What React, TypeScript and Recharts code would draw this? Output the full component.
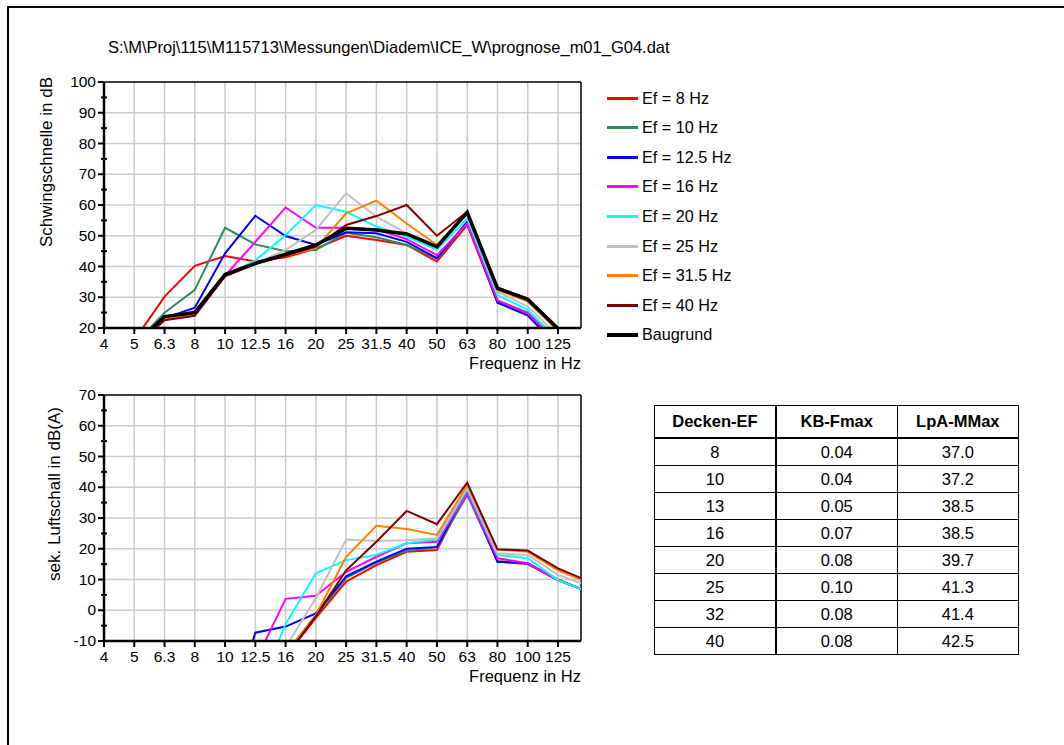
import React from 'react';
import { LineChart, Line, XAxis, YAxis, CartesianGrid, ReferenceLine } from 'recharts';

const FREQ_LABELS = ['4', '5', '6.3', '8', '10', '12.5', '16', '20', '25', '31.5', '40', '50', '63', '80', '100', '125', '160'];

// Upper chart: Schwingschnelle in dB
const topEf8 = [2, 16, 30.2, 40.2, 43.4, 41.6, 43, 45.8, 50, 48.6, 47, 41.6, 53.5, 28.4, 24, 14, 8];
const topEf10 = [3, 14.6, 25, 32.4, 52.6, 47.2, 45, 45.4, 51, 49.5, 47, 42.5, 54, 29, 25, 15, 8];
const topEf12 = [3, 13, 23.2, 26.6, 44.3, 56.5, 49.9, 47, 51.1, 50.8, 48, 42.7, 54.6, 28.2, 24.2, 14, 8];
const topEf16 = [3, 13, 23, 25.5, 37, 48, 59.2, 52.6, 52.6, 52, 48.9, 43.7, 54, 29, 24.8, 15, 8];
const topEf20 = [3, 13, 23, 25, 37, 42, 50.2, 60, 57.8, 53, 49.7, 45.4, 55.6, 30.7, 25.9, 16, 9];
const topEf25 = [3, 13.5, 23.2, 25, 37.2, 41, 45.4, 51.9, 63.8, 56.2, 50.8, 47, 56.7, 31.8, 27, 17.5, 10];
const topEf31 = [3, 13.5, 23, 24.5, 37, 41, 43.5, 46, 57.3, 61.4, 54, 47, 57.3, 32.4, 28.6, 19, 11];
const topEf40 = [3, 13.5, 22.5, 24, 36.8, 40.8, 43.5, 46.5, 53.5, 56.4, 60, 50, 57.8, 33.2, 29.6, 20, 12];
const topBaugrund = [5, 14.5, 23.7, 25, 37.4, 41, 44, 47, 52.4, 51.9, 50.6, 46.4, 57.6, 32.9, 29.3, 19.8, 12];

// Lower chart: sek. Luftschall in dB(A)
const botEf8 = [-40, -40, -40, -40, -40, -40, -15, -2.5, 9.3, 14.7, 19, 19.6, 38.6, 15.8, 15, 9.8, 6];
const botEf10 = [-40, -40, -40, -40, -40, -40, -15, -2, 10.5, 15.5, 19.3, 20.5, 37.5, 16, 15.2, 10, 6];
const botEf12 = [-40, -40, -40, -40, -40, -7.3, -5.3, -1, 11, 15.8, 20, 20.6, 38.9, 15.8, 15.3, 9.8, 6];
const botEf16 = [-40, -40, -40, -40, -40, -16.7, 3.7, 4.7, 12.5, 17.4, 21.8, 22.3, 38, 16.9, 15.3, 9.8, 6];
const botEf20 = [-40, -40, -40, -40, -40, -28, -4.5, 12, 16.3, 18, 21.8, 23, 39.3, 18, 16.9, 9.8, 6];
const botEf25 = [-40, -40, -40, -40, -40, -30, -12, 4, 23, 22.5, 22.8, 23.4, 40.2, 18.5, 18, 11.5, 8];
const botEf31 = [-40, -40, -40, -40, -40, -30, -14, -1.5, 17.4, 27.5, 26.4, 24.5, 40.7, 19.8, 19, 13, 9];
const botEf40 = [-40, -40, -40, -40, -40, -30, -15, -2, 13, 22.3, 32.3, 28, 41.5, 19.8, 19.4, 13.6, 9.5];

// Table
const tableHeader = ['Decken-EF', 'KB-Fmax', 'LpA-MMax'];
const tableEF = ['8', '10', '13', '16', '20', '25', '32', '40'];
const tableKB = ['0.04', '0.04', '0.05', '0.07', '0.08', '0.10', '0.08', '0.08'];
const tableLpA = ['37.0', '37.2', '38.5', '38.5', '39.7', '41.3', '41.4', '42.5'];

const TITLE = 'S:\\M\\Proj\\115\\M115713\\Messungen\\Diadem\\ICE_W\\prognose_m01_G04.dat';

const FONT = '"Liberation Sans", Arial, sans-serif';

const SERIES = [
  { key: 'ef8', name: 'Ef = 8 Hz', color: '#ff0000', width: 2 },
  { key: 'ef10', name: 'Ef = 10 Hz', color: '#2e8b57', width: 2 },
  { key: 'ef12', name: 'Ef = 12.5 Hz', color: '#0000ff', width: 2 },
  { key: 'ef16', name: 'Ef = 16 Hz', color: '#ff00ff', width: 2 },
  { key: 'ef20', name: 'Ef = 20 Hz', color: '#00ffff', width: 2 },
  { key: 'ef25', name: 'Ef = 25 Hz', color: '#c0c0c0', width: 2 },
  { key: 'ef31', name: 'Ef = 31.5 Hz', color: '#ff8000', width: 2 },
  { key: 'ef40', name: 'Ef = 40 Hz', color: '#800000', width: 2 },
  { key: 'base', name: 'Baugrund', color: '#000000', width: 3.5 },
];

const topData = FREQ_LABELS.map((f, i) => ({
  i,
  ef8: topEf8[i], ef10: topEf10[i], ef12: topEf12[i], ef16: topEf16[i], ef20: topEf20[i],
  ef25: topEf25[i], ef31: topEf31[i], ef40: topEf40[i], base: topBaugrund[i],
}));

const botData = FREQ_LABELS.map((f, i) => ({
  i,
  ef8: botEf8[i], ef10: botEf10[i], ef12: botEf12[i], ef16: botEf16[i], ef20: botEf20[i],
  ef25: botEf25[i], ef31: botEf31[i], ef40: botEf40[i],
}));

const X_MAX = 15.76;
const X_TICKS = Array.from({ length: 16 }, (_, k) => k);

const YTick = (props: any) => {
  const { x, y, payload } = props;
  const v = payload.value;
  const major = Math.round(v) % 10 === 0;
  if (major) {
    return (
      <g>
        <line x1={x - 6} x2={x} y1={y} y2={y} stroke="#000" strokeWidth={2} />
        <text x={x - 8} y={y} dy={5} textAnchor="end" fontSize={15.5} fill="#000" fontFamily={FONT}>{v}</text>
      </g>
    );
  }
  return <line x1={x - 3} x2={x + 3} y1={y} y2={y} stroke="#000" strokeWidth={2} />;
};

const XTick = (props: any) => {
  const { x, y, payload } = props;
  return (
    <g>
      <line x1={x} x2={x} y1={y} y2={y + 6} stroke="#000" strokeWidth={2} />
      <text x={x} y={y + 21} textAnchor="middle" fontSize={15.5} fill="#000" fontFamily={FONT}>
        {FREQ_LABELS[payload.value]}
      </text>
    </g>
  );
};

const Chart = ({ data, yDomain, yTicks, gridY, withBase }: any) => (
  <LineChart width={600} height={380} data={data} margin={{ top: 82, right: 19, bottom: 22, left: 0 }}>
    <CartesianGrid stroke="#cccccc" strokeWidth={1.5} horizontalValues={gridY} verticalValues={X_TICKS} />
    <XAxis
      dataKey="i"
      type="number"
      domain={[0, X_MAX]}
      ticks={X_TICKS}
      allowDataOverflow
      height={30}
      tickLine={false}
      tickSize={0}
      tickMargin={0}
      tick={<XTick />}
      axisLine={{ stroke: '#000', strokeWidth: 2.5 }}
      interval={0}
    />
    <YAxis
      type="number"
      domain={yDomain}
      ticks={yTicks}
      allowDataOverflow
      width={104}
      tickLine={false}
      tickSize={0}
      tickMargin={0}
      tick={<YTick />}
      axisLine={{ stroke: '#000', strokeWidth: 2.5 }}
      interval={0}
    />
    <ReferenceLine y={yDomain[1]} stroke="#000" strokeWidth={1.5} />
    <ReferenceLine x={X_MAX} stroke="#000" strokeWidth={1.5} />
    {SERIES.filter((s) => withBase || s.key !== 'base').map((s) => (
      <Line
        key={s.key}
        dataKey={s.key}
        name={s.name}
        stroke={s.color}
        strokeWidth={s.width}
        dot={false}
        activeDot={false}
        type="linear"
        isAnimationActive={false}
      />
    ))}
  </LineChart>
);

const rotLabel = (text: string, cx: number, cy: number) => (
  <div
    style={{
      position: 'absolute', left: cx, top: cy, transform: 'translate(-50%, -50%) rotate(-90deg)',
      whiteSpace: 'nowrap', fontSize: 17, fontFamily: FONT, color: '#000', lineHeight: '20px',
    }}
  >
    {text}
  </div>
);

const xLabel = (text: string, right: number, cy: number) => (
  <div
    style={{
      position: 'absolute', left: right - 200, width: 200, top: cy - 10, textAlign: 'right',
      fontSize: 16.5, fontFamily: FONT, color: '#000', lineHeight: '20px',
    }}
  >
    {text}
  </div>
);

const cellStyle = (col: number, header: boolean): React.CSSProperties => ({
  borderTop: header ? '1px solid #000' : 'none',
  borderBottom: header ? '2px solid #000' : '1px solid #000',
  borderLeft: col === 0 ? '1px solid #000' : col === 1 ? '2px solid #000' : '1px solid #000',
  borderRight: '1px solid #000',
  textAlign: 'center',
  padding: 0,
  fontWeight: header ? 'bold' : 'normal',
  height: header ? 31 : 26,
  fontSize: 16.5,
  lineHeight: '19px',
  fontFamily: FONT,
});

export default function App() {
  return (
    <div style={{ position: 'absolute', left: 0, top: 0, width: 1064, height: 745, background: '#fff', overflow: 'hidden', fontFamily: FONT }}>
      <div style={{ position: 'absolute', left: 7, top: 6, width: 1057, height: 739, borderTop: '2px solid #000', borderLeft: '2px solid #000', boxSizing: 'border-box' }} />
      <div style={{ position: 'absolute', left: 108, top: 37, fontSize: 16.5, fontFamily: FONT, whiteSpace: 'nowrap', lineHeight: '20px' }}>{TITLE}</div>

      <div style={{ position: 'absolute', left: 0, top: 0 }}>
        <Chart data={topData} yDomain={[20, 100]} yTicks={[20, 25, 30, 35, 40, 45, 50, 55, 60, 65, 70, 75, 80, 85, 90, 95, 100]} gridY={[30, 40, 50, 60, 70, 80, 90]} withBase />
      </div>
      <div style={{ position: 'absolute', left: 0, top: 313 }}>
        <Chart data={botData} yDomain={[-10, 70]} yTicks={[-10, -5, 0, 5, 10, 15, 20, 25, 30, 35, 40, 45, 50, 55, 60, 65, 70]} gridY={[0, 10, 20, 30, 40, 50, 60]} withBase={false} />
      </div>

      {rotLabel('Schwingschnelle in dB', 47, 162)}
      {rotLabel('sek. Luftschall in dB(A)', 55, 494)}
      {xLabel('Frequenz in Hz', 581, 363)}
      {xLabel('Frequenz in Hz', 581, 676)}

      <div style={{ position: 'absolute', left: 607, top: 83 }}>
        {SERIES.map((s, k) => (
          <div key={s.key} style={{ position: 'absolute', left: 0, top: k * 29.6, height: 30, width: 200, display: 'flex', alignItems: 'center' }}>
            <div style={{ width: 31, height: s.key === 'base' ? 4 : 3, background: s.color }} />
            <span style={{ marginLeft: 4, fontSize: 16.2, fontFamily: FONT, whiteSpace: 'nowrap' }}>{s.name}</span>
          </div>
        ))}
      </div>

      <table style={{ position: 'absolute', left: 654, top: 405, width: 365, borderCollapse: 'collapse', tableLayout: 'fixed' }}>
        <tbody>
          <tr>
            {tableHeader.map((h, c) => (
              <td key={h} style={cellStyle(c, true)}>{h}</td>
            ))}
          </tr>
          {tableEF.map((ef, r) => (
            <tr key={r}>
              <td style={cellStyle(0, false)}>{ef}</td>
              <td style={cellStyle(1, false)}>{tableKB[r]}</td>
              <td style={cellStyle(2, false)}>{tableLpA[r]}</td>
            </tr>
          ))}
        </tbody>
      </table>
    </div>
  );
}
